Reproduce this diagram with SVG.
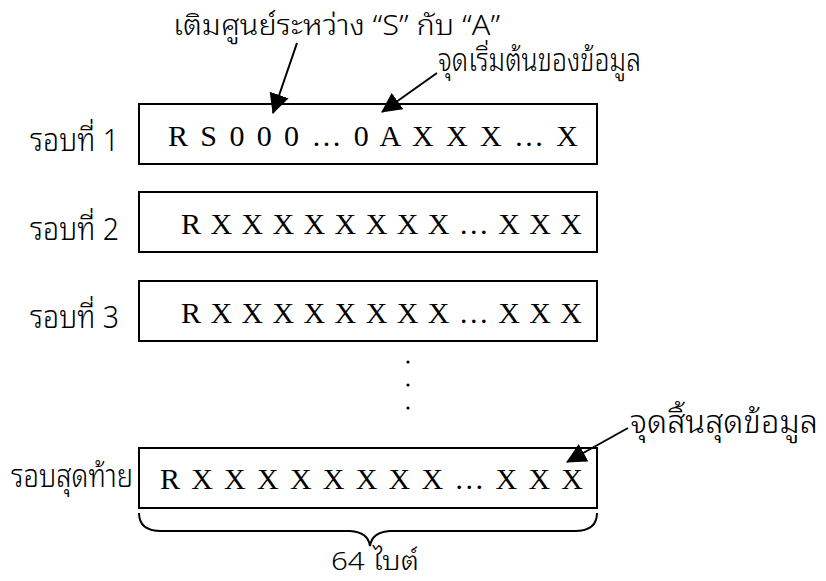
<svg xmlns="http://www.w3.org/2000/svg" width="826" height="581" viewBox="0 0 826 581">
  <defs>
    <style>
      .lbl { font-family: "Noto Sans Thai Looped", "Noto Sans Thai", "Liberation Sans", "DejaVu Sans", sans-serif; font-size: 31px; font-weight: 300; fill: #000; }
      .edge { font-size: 28px; }
      .foot { font-size: 26px; }
      .box { fill: #fff; stroke: #000; stroke-width: 2; }
      .data { font-family: "Liberation Serif", "Times New Roman", serif; font-size: 30px; fill: #000; }
      .conn { stroke: #000; stroke-width: 2; fill: none; }
      .dot { fill: #000; }
    </style>
    <marker id="arrow" viewBox="0 0 20 20" refX="19" refY="10" markerWidth="20" markerHeight="20" markerUnits="userSpaceOnUse" orient="auto">
      <path d="M0,0 L20,10 L0,20 z" fill="#000"/>
    </marker>
  </defs>

  <rect width="826" height="581" fill="#fff"/>

  <!-- annotation labels -->
  <text class="lbl edge" x="173" y="35" textLength="327" lengthAdjust="spacingAndGlyphs">เติมศูนย์ระหว่าง “S” กับ “A”</text>
  <text class="lbl" x="438" y="71" textLength="203" lengthAdjust="spacingAndGlyphs">จุดเริ่มต้นของข้อมูล</text>
  <text class="lbl" x="630" y="433" textLength="188" lengthAdjust="spacingAndGlyphs">จุดสิ้นสุดข้อมูล</text>

  <!-- round 1 -->
  <g id="round1">
    <text class="lbl" x="30" y="151" textLength="89" lengthAdjust="spacingAndGlyphs">รอบที่ 1</text>
    <rect class="box" x="139" y="104" width="458" height="60"/>
    <text class="data" x="168" y="146" textLength="410" lengthAdjust="spacing">R S 0 0 0 … 0 A X X X … X</text>
  </g>

  <!-- round 2 -->
  <g id="round2">
    <text class="lbl" x="30" y="240" textLength="89" lengthAdjust="spacingAndGlyphs">รอบที่ 2</text>
    <rect class="box" x="139" y="192" width="458" height="60"/>
    <text class="data" x="181" y="234" textLength="401" lengthAdjust="spacing">R X X X X X X X X … X X X</text>
  </g>

  <!-- round 3 -->
  <g id="round3">
    <text class="lbl" x="30" y="328" textLength="89" lengthAdjust="spacingAndGlyphs">รอบที่ 3</text>
    <rect class="box" x="139" y="281" width="458" height="60"/>
    <text class="data" x="181" y="323" textLength="401" lengthAdjust="spacing">R X X X X X X X X … X X X</text>
  </g>

  <!-- vertical ellipsis between rounds -->
  <g id="ellipsis">
    <circle class="dot" cx="408" cy="362" r="1.6"/>
    <circle class="dot" cx="408" cy="385" r="1.6"/>
    <circle class="dot" cx="408" cy="408" r="1.6"/>
  </g>

  <!-- last round -->
  <g id="roundLast">
    <text class="lbl" x="11" y="487" textLength="122" lengthAdjust="spacingAndGlyphs">รอบสุดท้าย</text>
    <rect class="box" x="139" y="448" width="458" height="60"/>
    <text class="data" x="160" y="489" textLength="423" lengthAdjust="spacing">R X X X X X X X X … X X X</text>
  </g>

  <!-- brace spanning the block -->
  <g id="brace">
    <path class="conn" d="M139,513 Q139,531 161,531 L350,531 Q368,532 370,546 Q372,532 390,531 L575,531 Q597,531 597,513"/>
    <text class="lbl foot" x="331" y="570" textLength="88" lengthAdjust="spacingAndGlyphs">64 ไบต์</text>
  </g>

  <!-- pointers -->
  <g id="connectors">
    <line class="conn" x1="297" y1="43" x2="273" y2="113" marker-end="url(#arrow)"/>
    <line class="conn" x1="437" y1="73" x2="382" y2="112" marker-end="url(#arrow)"/>
    <line class="conn" x1="628" y1="428" x2="567" y2="462" marker-end="url(#arrow)"/>
  </g>
</svg>
